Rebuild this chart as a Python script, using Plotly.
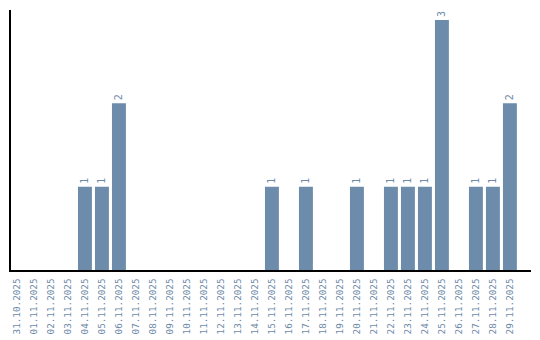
import plotly.graph_objects as go

dates = ["31.10.2025","01.11.2025","02.11.2025","03.11.2025","04.11.2025","05.11.2025",
         "06.11.2025","07.11.2025","08.11.2025","09.11.2025","10.11.2025","11.11.2025",
         "12.11.2025","13.11.2025","14.11.2025","15.11.2025","16.11.2025","17.11.2025",
         "18.11.2025","19.11.2025","20.11.2025","21.11.2025","22.11.2025","23.11.2025",
         "24.11.2025","25.11.2025","26.11.2025","27.11.2025","28.11.2025","29.11.2025"]
counts = [0,0,0,0,1,1,2,0,0,0,0,0,0,0,0,1,0,1,0,0,1,0,1,1,1,3,0,1,1,2]
labels = [str(v) if v > 0 else "" for v in counts]

bar_color = "#6d8cab"
text_color = "#6d8aa8"
font_family = "DejaVu Sans Mono"

fig = go.Figure(go.Bar(
    x=dates, y=counts, text=labels, textposition="outside",
    textangle=-90, cliponaxis=False,
    textfont=dict(family=font_family, size=10, color=text_color),
    marker=dict(color=bar_color, line=dict(width=0)),
))
fig.update_layout(
    width=540, height=340,
    margin=dict(l=11, r=9, t=10, b=70),
    plot_bgcolor="white", paper_bgcolor="white",
    bargap=0.18, showlegend=False,
    uniformtext=dict(minsize=10, mode="show"),
)
fig.update_xaxes(
    type="category", tickangle=-90, showgrid=False, range=[-0.35, 30.24],
    showline=True, linecolor="black", linewidth=1.5, ticks="",
    ticklabelstandoff=3, automargin=False,
    tickfont=dict(family=font_family, size=9.3, color=text_color),
)
fig.update_yaxes(
    range=[0, 3.12], showgrid=False, showticklabels=False, zeroline=False,
    showline=True, linecolor="black", linewidth=1.5, ticks="", automargin=False,
)
fig.write_html("out.html")
